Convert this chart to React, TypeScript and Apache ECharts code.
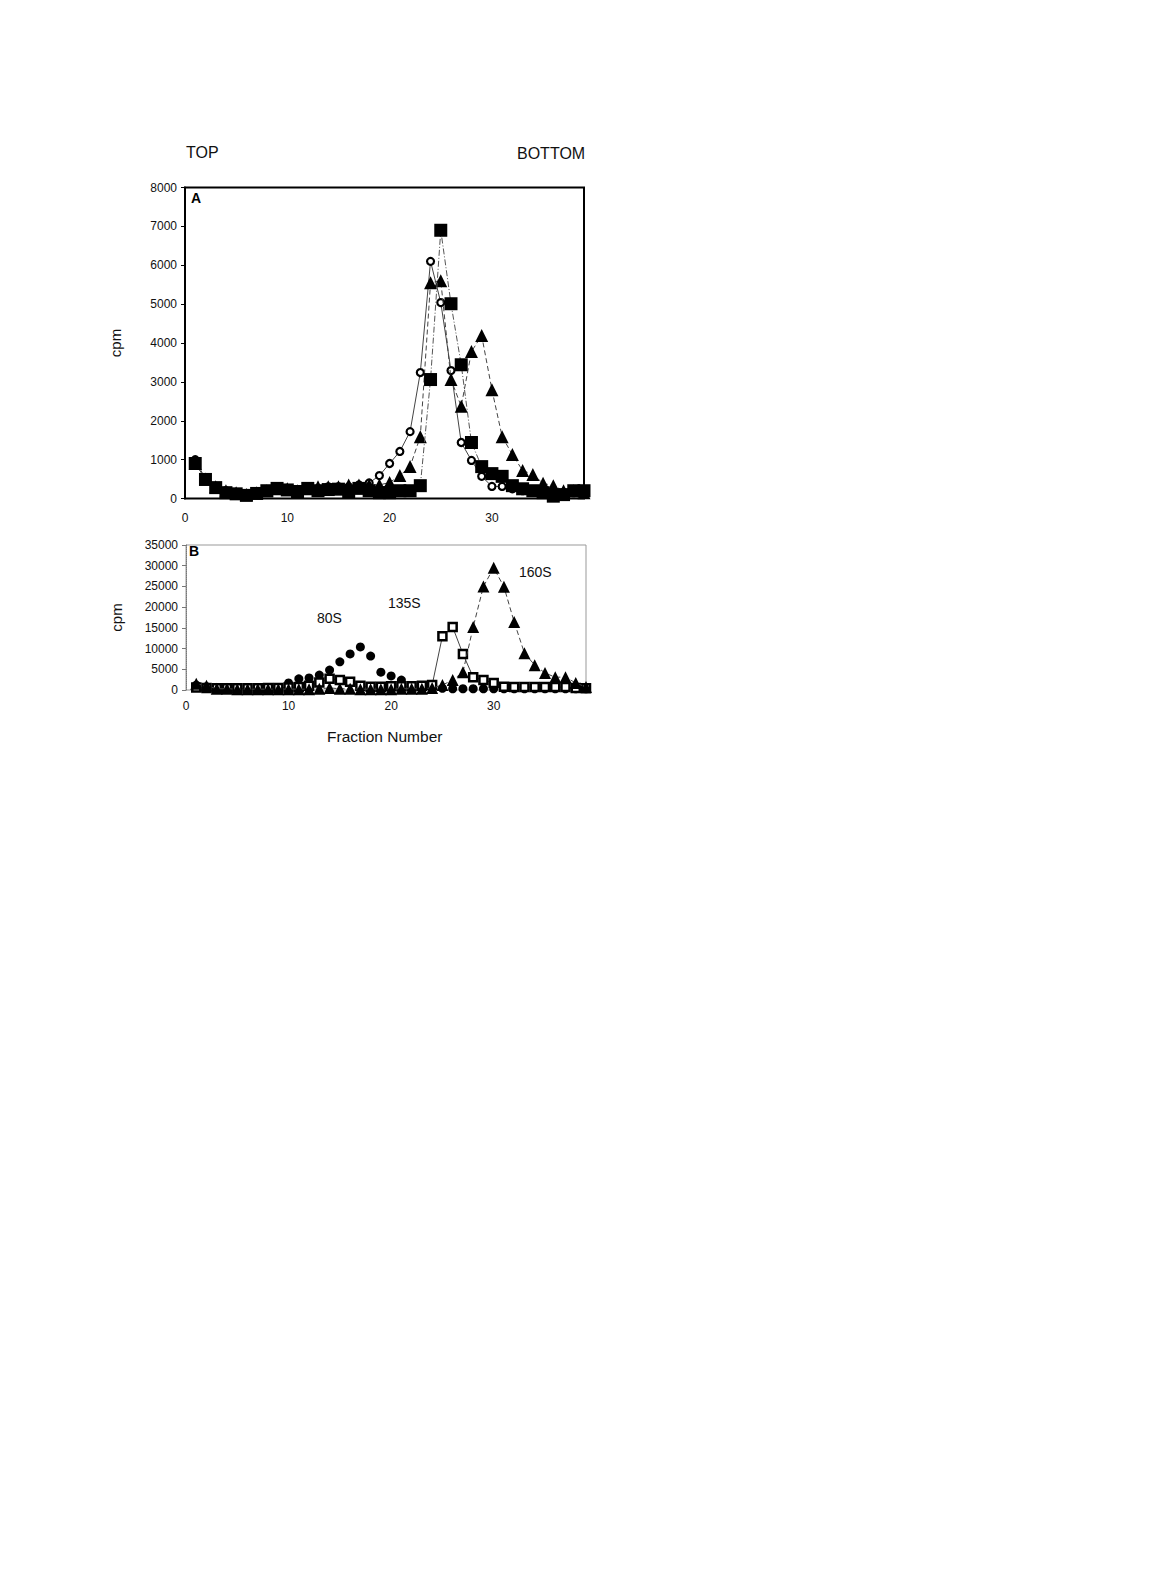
import React, { useEffect, useRef } from "react";
import * as echarts from "echarts";

const fractions = Array.from({ length: 39 }, (_, i) => i + 1);

// Panel A
const aCircles = [1000, 500, 300, 200, 150, 120, 150, 200, 250, 250, 200, 250, 250, 300, 300, 300, 350, 400, 590, 900, 1210, 1720, 3240, 6100, 5040, 3290, 1440, 980, 570, 310, 310, 250, 200, 200, 150, 150, 150, 150, 150];
const aTriangles = [900, 500, 300, 200, 150, 100, 150, 200, 250, 250, 200, 250, 300, 300, 300, 350, 350, 350, 350, 410, 590, 820, 1590, 5550, 5600, 3060, 2370, 3780, 4190, 2800, 1590, 1130, 720, 620, 390, 330, 200, 200, 150];
const aSquares = [900, 490, 280, 150, 120, 80, 130, 200, 260, 220, 180, 260, 200, 230, 240, 180, 260, 200, 150, 150, 200, 200, 330, 3060, 6900, 5010, 3440, 1440, 820, 640, 570, 330, 250, 200, 150, 60, 100, 200, 200];

// Panel B
const b80S = [1200, 800, 500, 500, 500, 500, 400, 400, 600, 1700, 2700, 2900, 3600, 4800, 6800, 8700, 10400, 8200, 4300, 3400, 2400, 1000, 700, 500, 400, 300, 300, 300, 300, 300, 300, 300, 300, 300, 300, 300, 300, 300, 300];
const b135S = [600, 500, 400, 400, 400, 400, 400, 500, 500, 600, 700, 1000, 1800, 2700, 2400, 2000, 1000, 800, 800, 900, 900, 900, 1000, 1200, 13000, 15200, 8700, 3100, 2400, 1700, 800, 700, 700, 700, 700, 700, 700, 500, 400];
const b160S = [1500, 1000, 300, 300, 200, 200, 200, 200, 200, 200, 200, 200, 300, 500, 300, 300, 200, 200, 200, 200, 300, 300, 300, 500, 1200, 2400, 4300, 15200, 25000, 29500, 24900, 16400, 8900, 6000, 4100, 3100, 3100, 1700, 700];

const xTicks = [0, 10, 20, 30];
const aYTicksMax = 8000;
const bYTicksMax = 35000;

const pair = (ys: number[]) => fractions.map((x, i) => [x, ys[i]]);

const FONT = "Liberation Sans, Arial, sans-serif";

export default function App() {
  const ref = useRef<HTMLDivElement>(null);
  useEffect(() => {
    const chart = echarts.init(ref.current!, null, { renderer: "svg" });
    const xAxisBase = (gridIndex: number, margin: number) => ({
      type: "value",
      gridIndex,
      min: 0,
      max: 39,
      interval: 10,
      axisLine: { show: false },
      axisTick: { show: false },
      splitLine: { show: false },
      axisLabel: {
        margin,
        fontSize: 12,
        fontFamily: FONT,
        color: "#111",
        formatter: (v: number) => (xTicks.includes(v) ? String(v) : ""),
      },
    });
    const yLabel = { margin: 8, fontSize: 12, fontFamily: FONT, color: "#111", formatter: (v: number) => String(v) };
    const option: any = {
      animation: false,
      backgroundColor: "#fff",
      grid: [
        { left: 177, top: 179.5, width: 399, height: 311, show: true, borderColor: "#000", borderWidth: 2, backgroundColor: "transparent" },
        { left: 178, top: 537, width: 400, height: 145, show: true, borderColor: "#999", borderWidth: 1, backgroundColor: "transparent" },
      ],
      xAxis: [xAxisBase(0, 13), xAxisBase(1, 10)],
      yAxis: [
        {
          type: "value",
          gridIndex: 0,
          min: 0,
          max: aYTicksMax,
          interval: 1000,
          axisLine: { show: true, lineStyle: { color: "#000", width: 2 } },
          axisTick: { show: true, length: 4, lineStyle: { color: "#000" } },
          splitLine: { show: false },
          axisLabel: yLabel,
          name: "cpm",
          nameLocation: "middle",
          nameGap: 62,
          nameRotate: 90,
          nameTextStyle: { fontSize: 15, fontFamily: FONT, color: "#111" },
        },
        {
          type: "value",
          gridIndex: 1,
          min: 0,
          max: bYTicksMax,
          interval: 5000,
          axisLine: { show: true, lineStyle: { color: "#777", width: 1, type: "dotted" } },
          axisTick: { show: true, length: 4, lineStyle: { color: "#777" } },
          splitLine: { show: false },
          axisLabel: yLabel,
          name: "cpm",
          nameLocation: "middle",
          nameGap: 62,
          nameRotate: 90,
          nameTextStyle: { fontSize: 15, fontFamily: FONT, color: "#111" },
        },
      ],
      series: [
        {
          name: "A circles",
          type: "line",
          xAxisIndex: 0,
          yAxisIndex: 0,
          data: pair(aCircles),
          symbol: "circle",
          symbolSize: 7,
          itemStyle: { color: "#fff", borderColor: "#000", borderWidth: 2.2 },
          lineStyle: { color: "#444", width: 1 },
          z: 3,
        },
        {
          name: "A triangles",
          type: "line",
          xAxisIndex: 0,
          yAxisIndex: 0,
          data: pair(aTriangles),
          symbol: "triangle",
          symbolSize: 13,
          itemStyle: { color: "#000", borderWidth: 0 },
          lineStyle: { color: "#444", width: 1, type: [5, 3] },
          z: 4,
        },
        {
          name: "A squares",
          type: "line",
          xAxisIndex: 0,
          yAxisIndex: 0,
          data: pair(aSquares),
          symbol: "rect",
          symbolSize: 13,
          itemStyle: { color: "#000", borderWidth: 0 },
          lineStyle: { color: "#555", width: 1, type: [6, 2, 1, 2] },
          z: 5,
        },
        {
          name: "80S",
          type: "line",
          xAxisIndex: 1,
          yAxisIndex: 1,
          data: pair(b80S),
          symbol: "circle",
          symbolSize: 9,
          itemStyle: { color: "#000", borderWidth: 0 },
          lineStyle: { width: 0, opacity: 0 },
          z: 3,
        },
        {
          name: "135S",
          type: "line",
          xAxisIndex: 1,
          yAxisIndex: 1,
          data: pair(b135S),
          symbol: "rect",
          symbolSize: 8,
          itemStyle: { color: "#fff", borderColor: "#000", borderWidth: 2.5 },
          lineStyle: { color: "#444", width: 1 },
          z: 4,
        },
        {
          name: "160S",
          type: "line",
          xAxisIndex: 1,
          yAxisIndex: 1,
          data: pair(b160S),
          symbol: "triangle",
          symbolSize: 12,
          itemStyle: { color: "#000", borderWidth: 0 },
          lineStyle: { color: "#444", width: 1, type: [5, 3] },
          z: 5,
        },
      ],
      graphic: [
        { type: "text", left: 178, top: 136, style: { text: "TOP", fontSize: 16, fontFamily: FONT, fill: "#111" } },
        { type: "text", left: 509, top: 137, style: { text: "BOTTOM", fontSize: 16, fontFamily: FONT, fill: "#111" } },
        { type: "text", left: 183, top: 183, style: { text: "A", fontSize: 14, fontWeight: "bold", fontFamily: FONT, fill: "#000" } },
        { type: "text", left: 181, top: 536, style: { text: "B", fontSize: 14, fontWeight: "bold", fontFamily: FONT, fill: "#000" } },
        { type: "text", left: 309, top: 603, style: { text: "80S", fontSize: 14, fontFamily: FONT, fill: "#111" } },
        { type: "text", left: 380, top: 588, style: { text: "135S", fontSize: 14, fontFamily: FONT, fill: "#111" } },
        { type: "text", left: 511, top: 557, style: { text: "160S", fontSize: 14, fontFamily: FONT, fill: "#111" } },
        { type: "text", left: 319, top: 720, style: { text: "Fraction Number", fontSize: 15.5, fontFamily: FONT, fill: "#111" } },
      ],
    };
    chart.setOption(option);
    return () => chart.dispose();
  }, []);
  return <div ref={ref} style={{ width: 1156, height: 800 }} />;
}
